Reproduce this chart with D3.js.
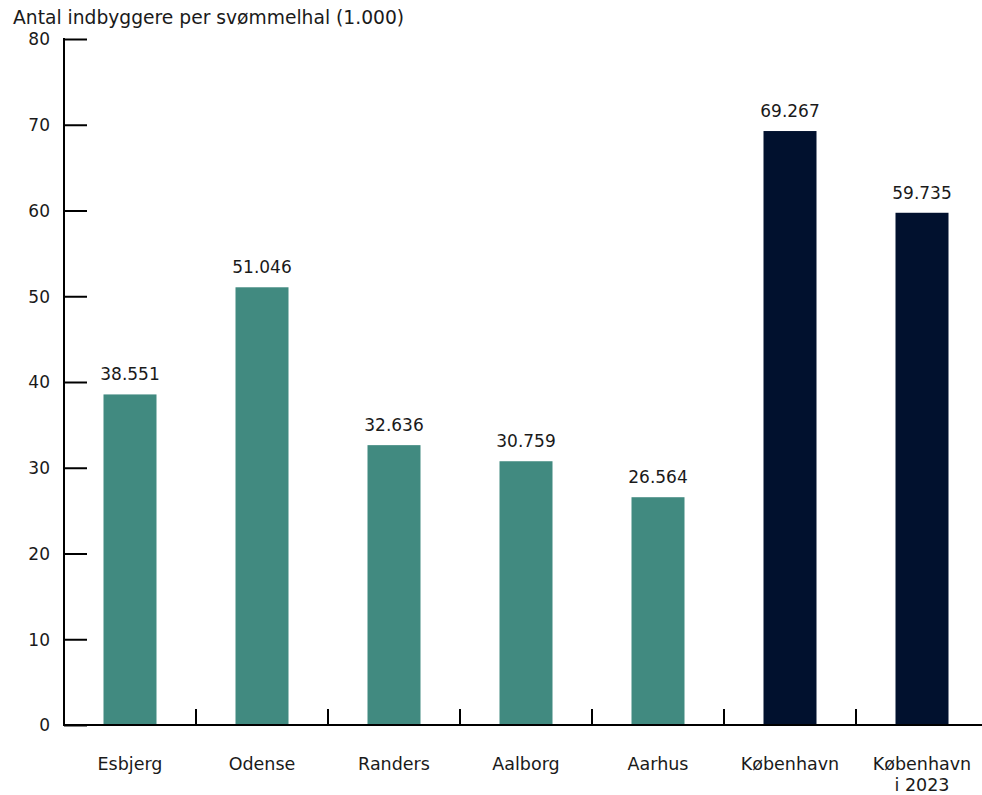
<!DOCTYPE html>
<html><head><meta charset="utf-8">
<script src="https://cdn.jsdelivr.net/npm/d3@7"></script>
<style>body{margin:0;background:#fff}svg{display:block}text{font-family:"DejaVu Sans",sans-serif;fill:#1a1a1a}</style>
</head><body><svg id="c" width="982" height="795"></svg>
<script>
const categories = ["Esbjerg","Odense","Randers","Aalborg","Aarhus","København","København\ni 2023"];
const values = [38.551,51.046,32.636,30.759,26.564,69.267,59.735];
const valueLabels = ["38.551","51.046","32.636","30.759","26.564","69.267","59.735"];
const highlight = [false,false,false,false,false,true,true];
const yTicks = [0,10,20,30,40,50,60,70,80];
const title = "Antal indbyggere per svømmelhal (1.000)";

const svg = d3.select("#c");
const x0 = 64, yBase = 725, yTop = 39;
const x = d3.scaleBand().domain(categories).range([x0, x0 + 132*categories.length]).paddingInner(0).paddingOuter(0);
const y = d3.scaleLinear().domain([0,80]).range([yBase, yTop]);
const bw = 53;

// y axis
const ya = svg.append("g").attr("transform",`translate(${x0},0)`)
  .call(d3.axisRight(y).tickValues(yTicks).tickSize(23).tickFormat(d3.format("d")));
ya.select(".domain").remove();
ya.selectAll(".tick line").attr("stroke","#000").attr("stroke-width",2);
ya.selectAll(".tick text").attr("x",-14).attr("text-anchor","end").attr("font-size",17).attr("dy","0.35em").style("fill","#1a1a1a").style("font-family","DejaVu Sans");
svg.append("line").attr("x1",x0).attr("x2",x0).attr("y1",y(80)-1).attr("y2",yBase+1).attr("stroke","#000").attr("stroke-width",2);

// bars
svg.selectAll("rect.bar").data(categories).enter().append("rect")
  .attr("x",(d)=>x(d)+x.bandwidth()/2-bw/2)
  .attr("y",(d,i)=>y(values[i]))
  .attr("width",bw)
  .attr("height",(d,i)=>yBase-y(values[i]))
  .attr("fill",(d,i)=>highlight[i]?"#01112e":"#418a80");

// value labels
svg.selectAll("text.val").data(categories).enter().append("text")
  .attr("x",(d)=>x(d)+x.bandwidth()/2)
  .attr("y",(d,i)=>y(values[i])-14)
  .attr("text-anchor","middle").attr("font-size",17)
  .text((d,i)=>valueLabels[i]);

// x axis
svg.append("line").attr("x1",x0-1).attr("x2",982).attr("y1",yBase).attr("y2",yBase).attr("stroke","#000").attr("stroke-width",2);
categories.slice(1).forEach(c=>{
  svg.append("line").attr("x1",x(c)).attr("x2",x(c)).attr("y1",yBase).attr("y2",yBase-16).attr("stroke","#000").attr("stroke-width",2);
});
categories.forEach(c=>{
  const t = svg.append("text").attr("x",x(c)+x.bandwidth()/2).attr("y",770).attr("text-anchor","middle").attr("font-size",17.5);
  c.split("\n").forEach((s,j)=>t.append("tspan").attr("x",x(c)+x.bandwidth()/2).attr("dy",j?21:0).text(s));
});

svg.append("text").attr("x",13).attr("y",24).attr("font-size",18.7).text(title);
</script></body></html>
